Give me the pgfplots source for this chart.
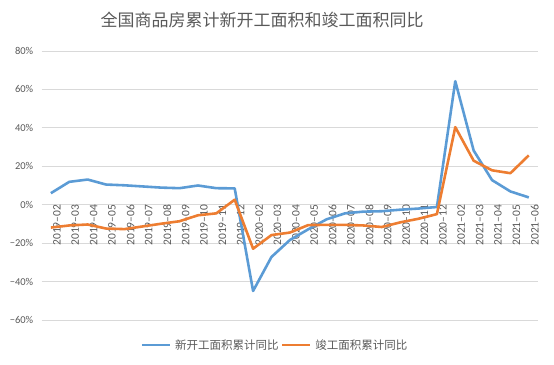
\documentclass[border=0pt]{standalone}
\usepackage{pgfplots}
\pgfplotsset{compat=1.18}
\usepackage{fontspec}
\setmainfont{Carlito}
\newfontfamily\cjk{Noto Sans CJK SC}
\definecolor{cblue}{HTML}{5B9BD5}
\definecolor{corange}{HTML}{ED7D31}
\definecolor{tgrey}{HTML}{595959}
\definecolor{ggrey}{HTML}{D9D9D9}
\pgfplotstableread{
x new done
0 6.0 -11.9
1 11.9 -10.8
2 13.1 -10.3
3 10.5 -12.4
4 10.1 -12.7
5 9.5 -11.3
6 8.9 -9.9
7 8.6 -8.6
8 10.0 -5.5
9 8.6 -4.5
10 8.5 2.6
11 -44.9 -22.9
12 -27.2 -15.8
13 -18.4 -14.5
14 -12.8 -10.6
15 -7.6 -10.5
16 -4.5 -10.5
17 -3.6 -10.8
18 -3.4 -11.6
19 -2.6 -9.2
20 -2.0 -7.3
21 -1.2 -4.9
22 64.3 40.4
23 28.2 22.9
24 12.8 17.9
25 6.9 16.4
26 3.8 25.7
}\datatab
\begin{document}
\begin{tikzpicture}
\begin{axis}[
  name=ax,
  scale only axis,
  width=496.3bp, height=269bp,
  xmin=-0.5, xmax=26.5,
  ymin=-60, ymax=80,
  axis x line=middle, axis y line=left,
  axis line style={draw=none},
  ytick={-60,-40,-20,0,20,40,60,80},
  yticklabels={−60\%,−40\%,−20\%,0\%,20\%,40\%,60\%,80\%},
  xtick={0,...,26},
  xticklabels={2019–02,2019–03,2019–04,2019–05,2019–06,2019–07,2019–08,2019–09,2019–10,2019–11,2019–12,2020–02,2020–03,2020–04,2020–05,2020–06,2020–07,2020–08,2020–09,2020–10,2020–11,2020–12,2021–02,2021–03,2021–04,2021–05,2021–06},
  major tick length=0pt,
  ymajorgrids, grid style={ggrey, line width=0.8pt},
  yticklabel style={font=\fontsize{10.5bp}{12bp}\selectfont, text=tgrey, xshift=-5bp},
  xticklabel style={font=\fontsize{11.5bp}{13bp}\selectfont, text=tgrey, rotate=90, anchor=east, yshift=-6bp, inner sep=0pt},
  legend columns=2,
  legend style={at={(0.47,-0.093)}, anchor=center, draw=none, fill=none,
    font=\cjk\fontsize{11.5bp}{13bp}\selectfont, text=tgrey,
    /tikz/every odd column/.append style={column sep=2bp}},
  legend image code/.code={\draw[#1] (0bp,0bp) -- (28bp,0bp);},
  clip=false,
]
\addplot[cblue, line width=2.6pt, line join=round] table[x=x,y=new] {\datatab};
\addlegendentry{新开工面积累计同比}
\addplot[corange, line width=2.6pt, line join=round] table[x=x,y=done] {\datatab};
\addlegendentry{竣工面积累计同比}
\end{axis}
\node[font=\cjk\fontsize{17bp}{19bp}\selectfont, text=tgrey] at ([xshift=220.3bp, yshift=31.5bp]ax.north west) {全国商品房累计新开工面积和竣工面积同比};
\path[use as bounding box] ([xshift=-41.7bp,yshift=-45bp]ax.south west) rectangle ([xshift=16bp,yshift=51bp]ax.north east);
\end{tikzpicture}
\end{document}
